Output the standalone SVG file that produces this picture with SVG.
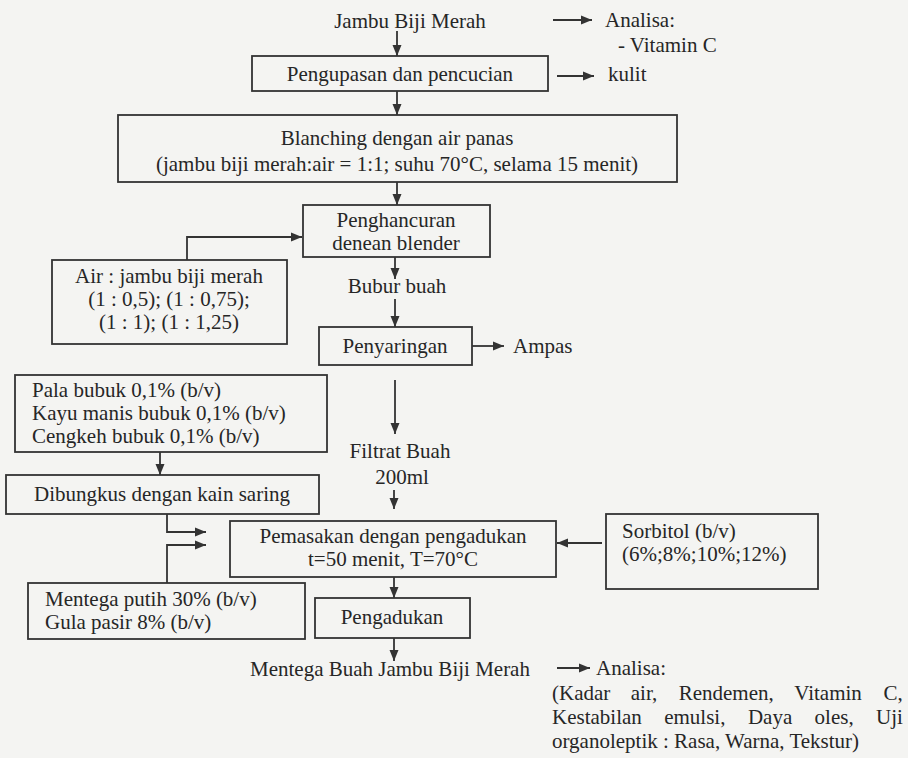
<svg xmlns="http://www.w3.org/2000/svg" width="908" height="758" viewBox="0 0 908 758">
<style>
text{font-family:'Liberation Serif','DejaVu Serif',serif;font-size:21px;fill:#262626}
.c{text-anchor:middle}
.box{fill:none;stroke:#333;stroke-width:1.8}
.ln{fill:none;stroke:#333;stroke-width:1.8}
</style>
<defs>
<marker id="ah" markerUnits="userSpaceOnUse" markerWidth="12" markerHeight="10" refX="11" refY="5" orient="auto">
<path d="M0,0.5 L11,5 L0,9.5 z" fill="#333"/>
</marker>
</defs>
<rect x="0" y="0" width="908" height="758" fill="#f4f4f2"/>

<g id="connectors">
<line class="ln" x1="397" y1="31" x2="397" y2="56" marker-end="url(#ah)"/>
<line class="ln" x1="553" y1="20" x2="592" y2="20" marker-end="url(#ah)"/>
<line class="ln" x1="557" y1="76" x2="594" y2="76" marker-end="url(#ah)"/>
<line class="ln" x1="397" y1="91" x2="397" y2="115" marker-end="url(#ah)"/>
<line class="ln" x1="397" y1="182" x2="397" y2="205" marker-end="url(#ah)"/>
<polyline class="ln" points="187,260 187,237 302,237" marker-end="url(#ah)"/>
<line class="ln" x1="395" y1="257" x2="395" y2="279" marker-end="url(#ah)"/>
<line class="ln" x1="395" y1="299" x2="395" y2="327" marker-end="url(#ah)"/>
<line class="ln" x1="472" y1="346" x2="504" y2="346" marker-end="url(#ah)"/>
<line class="ln" x1="395" y1="380" x2="395" y2="434" marker-end="url(#ah)"/>
<line class="ln" x1="394" y1="490" x2="394" y2="509" marker-end="url(#ah)"/>
<line class="ln" x1="160" y1="452" x2="160" y2="475" marker-end="url(#ah)"/>
<polyline class="ln" points="167,514 167,532 206,532" marker-end="url(#ah)"/>
<polyline class="ln" points="167,583 167,545 206,545" marker-end="url(#ah)"/>
<line class="ln" x1="602" y1="543" x2="557" y2="543" marker-end="url(#ah)"/>
<line class="ln" x1="394" y1="577" x2="394" y2="598" marker-end="url(#ah)"/>
<line class="ln" x1="394" y1="638" x2="394" y2="661" marker-end="url(#ah)"/>
<line class="ln" x1="557" y1="668" x2="590" y2="668" marker-end="url(#ah)"/>
</g>

<g id="n-jambu"><text class="c" x="410" y="28">Jambu Biji Merah</text></g>
<g id="n-analisa1"><text x="605" y="27">Analisa:</text><text x="618" y="52">- Vitamin C</text></g>
<g id="n-pengupasan"><rect class="box" x="252" y="56" width="296" height="35"/><text class="c" x="400" y="81">Pengupasan dan pencucian</text></g>
<g id="n-kulit"><text x="608" y="81">kulit</text></g>
<g id="n-blanching"><rect class="box" x="118" y="115" width="559" height="67"/><text class="c" x="397" y="145">Blanching dengan air panas</text><text class="c" x="397" y="171">(jambu biji merah:air = 1:1; suhu 70°C, selama 15 menit)</text></g>
<g id="n-penghancuran"><rect class="box" x="303" y="205" width="187" height="52"/><text class="c" x="396" y="227">Penghancuran</text><text class="c" x="396" y="250">denean blender</text></g>
<g id="n-air"><rect class="box" x="52" y="260" width="235" height="84"/><text class="c" x="169" y="283">Air : jambu biji merah</text><text class="c" x="169" y="306">(1 : 0,5); (1 : 0,75);</text><text class="c" x="169" y="329">(1 : 1); (1 : 1,25)</text></g>
<g id="n-bubur"><text class="c" x="397" y="293">Bubur buah</text></g>
<g id="n-penyaringan"><rect class="box" x="319" y="327" width="153" height="38"/><text class="c" x="395" y="353">Penyaringan</text></g>
<g id="n-ampas"><text x="513" y="353">Ampas</text></g>
<g id="n-filtrat"><text class="c" x="400" y="458">Filtrat Buah</text><text class="c" x="402" y="484">200ml</text></g>
<g id="n-pala"><rect class="box" x="15" y="375" width="312" height="77"/><text x="32" y="397">Pala bubuk 0,1% (b/v)</text><text x="32" y="420">Kayu manis bubuk 0,1% (b/v)</text><text x="32" y="443">Cengkeh bubuk 0,1% (b/v)</text></g>
<g id="n-dibungkus"><rect class="box" x="6" y="475" width="313" height="39"/><text class="c" x="162" y="501">Dibungkus dengan kain saring</text></g>
<g id="n-pemasakan"><rect class="box" x="230" y="521" width="326" height="56"/><text class="c" x="393" y="543">Pemasakan dengan pengadukan</text><text class="c" x="393" y="566">t=50 menit, T=70°C</text></g>
<g id="n-sorbitol"><rect class="box" x="606" y="514" width="212" height="75"/><text x="622" y="538">Sorbitol (b/v)</text><text x="622" y="561">(6%;8%;10%;12%)</text></g>
<g id="n-mentega"><rect class="box" x="28" y="583" width="277" height="56"/><text x="45" y="606">Mentega putih 30% (b/v)</text><text x="45" y="629">Gula pasir 8% (b/v)</text></g>
<g id="n-pengadukan"><rect class="box" x="315" y="598" width="155" height="40"/><text class="c" x="392" y="624">Pengadukan</text></g>
<g id="n-produk"><text x="250" y="676">Mentega Buah Jambu Biji Merah</text></g>
<g id="n-analisa2"><text x="596" y="675">Analisa:</text>
<text y="700"><tspan x="552">(Kadar</tspan><tspan x="630.8">air,</tspan><tspan x="678.7">Rendemen,</tspan><tspan x="794.3">Vitamin</tspan><tspan x="883.6">C,</tspan></text>
<text y="724"><tspan x="552">Kestabilan</tspan><tspan x="664.2">emulsi,</tspan><tspan x="747.9">Daya</tspan><tspan x="814.6">oles,</tspan><tspan x="876.1">Uji</tspan></text>
<text x="552" y="748">organoleptik : Rasa, Warna, Tekstur)</text></g>
</svg>
